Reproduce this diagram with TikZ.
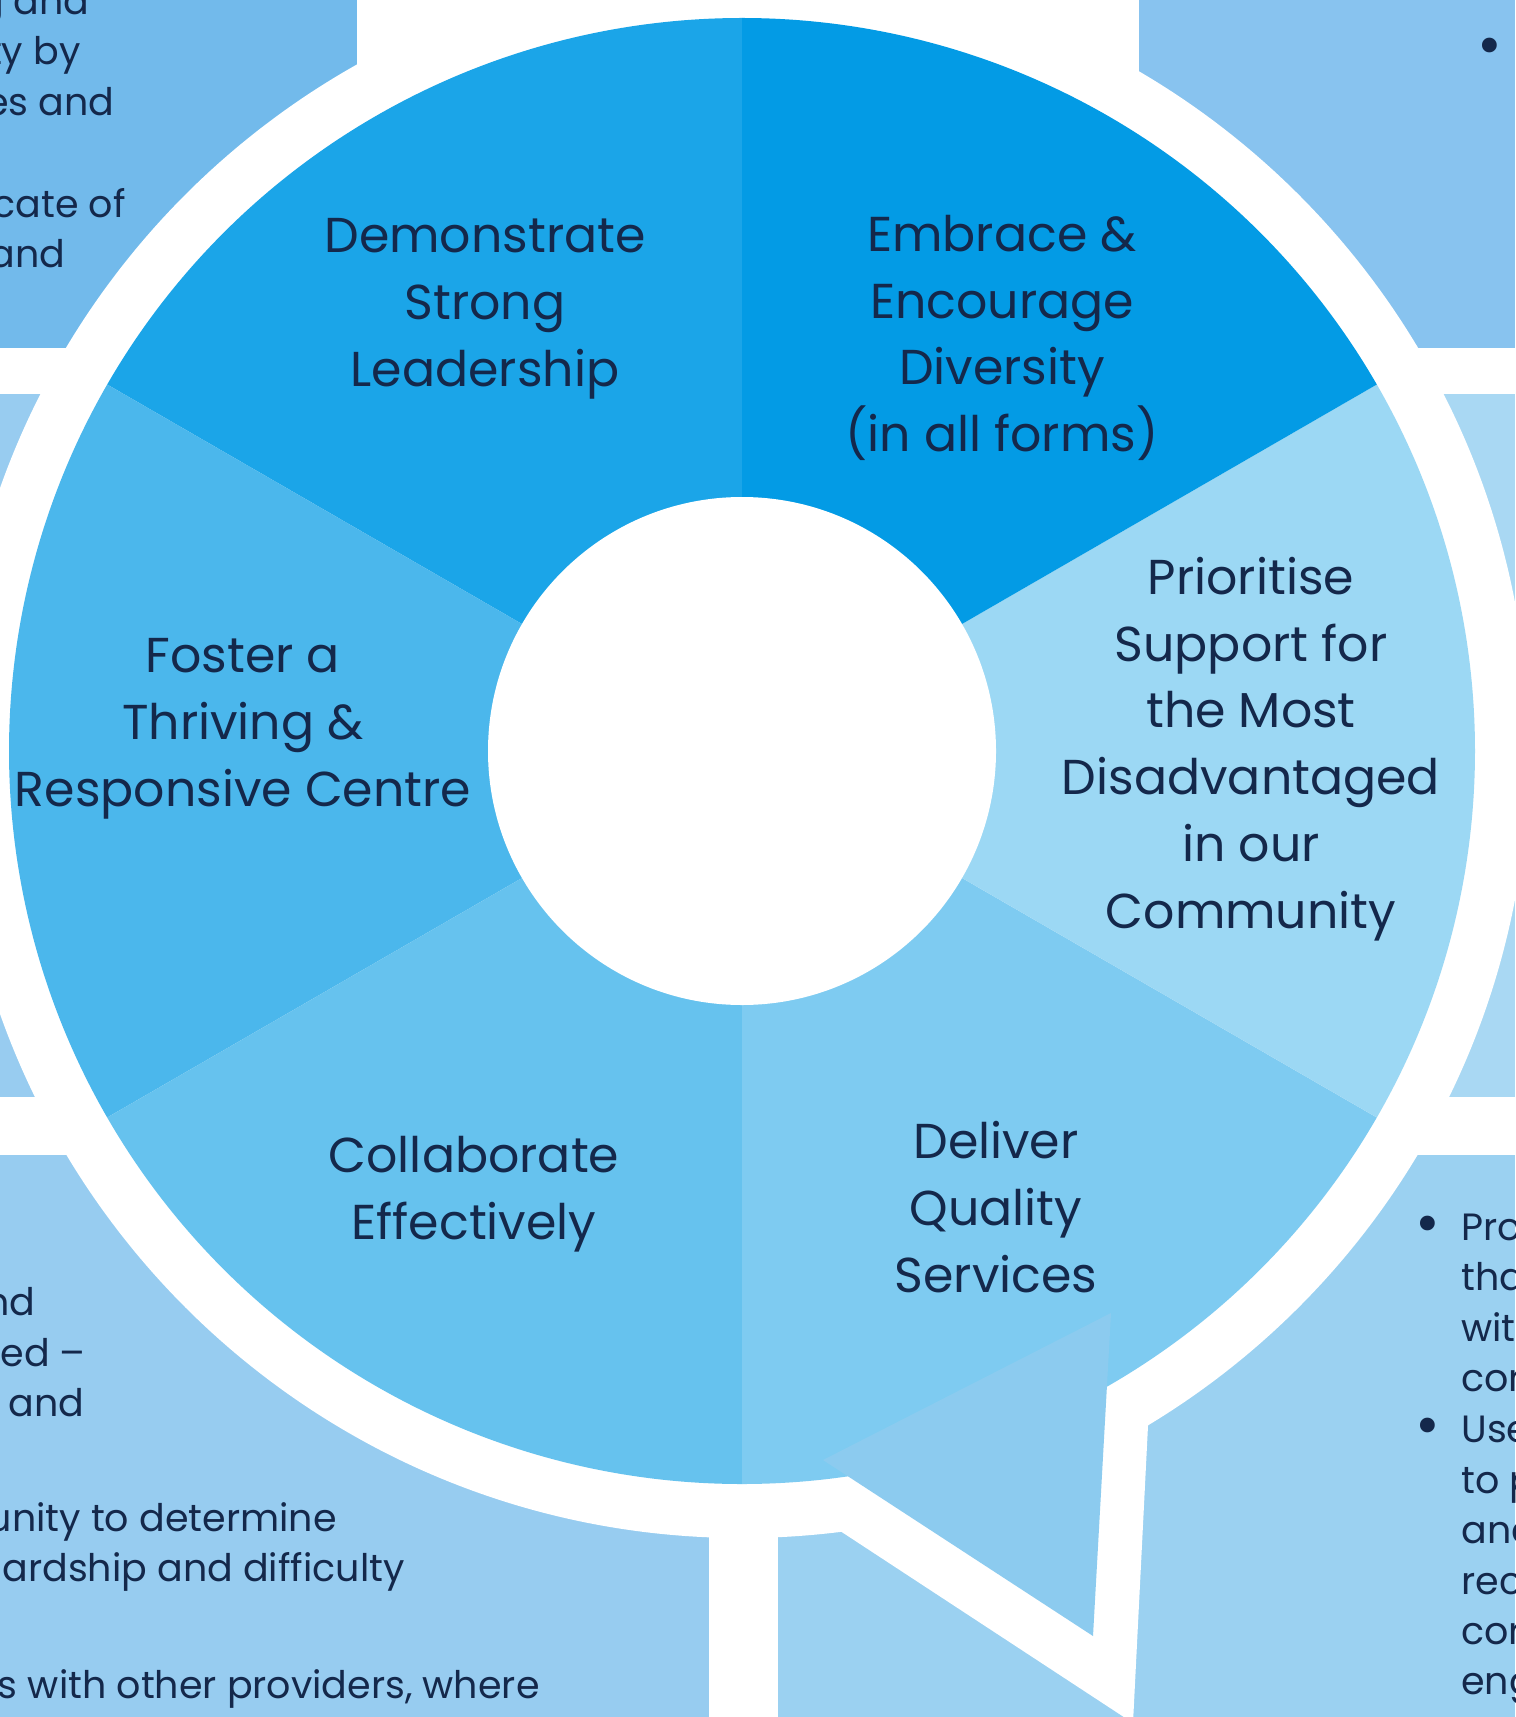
\documentclass[tikz,border=0pt]{standalone}
\usepackage{fontspec}
\setmainfont{Poppins}

\definecolor{navy}{HTML}{14284B}
\definecolor{lead}{HTML}{1BA5E8}
\definecolor{diver}{HTML}{039BE5}
\definecolor{prior}{HTML}{9CD8F4}
\definecolor{deliv}{HTML}{7ECBF1}
\definecolor{collab}{HTML}{66C2EE}
\definecolor{foster}{HTML}{4BB7EC}
\definecolor{tailblue}{HTML}{8CCBEF}
\definecolor{paneltl}{HTML}{72BAEB}
\definecolor{paneltr}{HTML}{88C3EF}
\definecolor{panelml}{HTML}{98CCF0}
\definecolor{panelmr}{HTML}{A9D8F3}
\definecolor{panelbl}{HTML}{97CCF0}
\definecolor{panelbr}{HTML}{9BD1F1}

\begin{document}
\begin{tikzpicture}[x=0.5pt,y=-0.5pt,
  goal/.style={align=center,text=navy,font=\fontsize{24.5}{33.4}\selectfont},
  side/.style={text=navy,font=\fontsize{19}{25}\selectfont,inner sep=0pt},
  dot/.style={text=navy,font=\fontsize{30}{30}\selectfont,inner sep=0pt}]

\useasboundingbox (0,0) rectangle (1515,1717);

\fill[paneltl] (0,0) rectangle (357,348);
\fill[paneltr] (1139,0) rectangle (1515,348);
\fill[panelml] (0,394) rectangle (400,1097);
\fill[panelmr] (1100,394) rectangle (1515,1097);
\fill[panelbl] (0,1155) rectangle (709,1717);
\fill[panelbr] (778,1155) rectangle (1515,1717);

\fill[white] (742,751) circle (787);
\fill[white] (767,1483) -- (1133,1723) -- (1155,1287) -- (742,751) -- cycle;

\begin{scope}[shift={(742,751)},yscale=-1]
\fill[lead] (0,0) -- (90:733) arc[start angle=90,end angle=150,radius=733] -- cycle;
\fill[foster] (0,0) -- (150:733) arc[start angle=150,end angle=210,radius=733] -- cycle;
\fill[collab] (0,0) -- (210:733) arc[start angle=210,end angle=270,radius=733] -- cycle;
\fill[deliv] (0,0) -- (270:733) arc[start angle=270,end angle=330,radius=733] -- cycle;
\fill[prior] (0,0) -- (330:733) arc[start angle=330,end angle=390,radius=733] -- cycle;
\fill[diver] (0,0) -- (30:733) arc[start angle=30,end angle=90,radius=733] -- cycle;
\fill[white] (0,0) circle (254);
\end{scope}

\fill[tailblue] (823,1460) -- (1111,1313) -- (1093,1636) -- cycle;

\node[goal] (leadtxt) at (485,309) {Demonstrate\\Strong\\Leadership};
\node[goal] (divertxt) at (1002,338) {Embrace \&\\Encourage\\Diversity\\(in all forms)};
\node[goal] (priortxt) at (1251,749) {Prioritise\\Support for\\the Most\\Disadvantaged\\in our\\Community};
\node[goal] (delivtxt) at (996,1207) {Deliver\\Quality\\Services};
\node[goal] (collabtxt) at (474,1194) {Collaborate\\Effectively};
\node[goal] (fostertxt) at (243,729) {Foster a\\Thriving \&\\Responsive Centre};

\node[side,anchor=base east] (tl1) at (90,15) {g and};
\node[side,anchor=base east] (tl2) at (81,65) {ty by};
\node[side,anchor=base east] (tl3) at (115,116) {es and};
\node[side,anchor=base east] (tl4) at (126,218) {cate of};
\node[side,anchor=base east] (tl5) at (66,268) {and};

\node[dot,anchor=base] (trdot) at (1490,66) {•};

\node[side,anchor=base east] (bl1) at (36,1315) {nd};
\node[side,anchor=base east] (bl2) at (86,1366) {ued –};
\node[side,anchor=base east] (bl3) at (85,1416) {y and};
\node[side,anchor=base east] (bl4) at (337,1531) {unity to determine};
\node[side,anchor=base east] (bl5) at (405,1581) {ardship and difficulty};
\node[side,anchor=base east] (bl6) at (540,1698) {s with other providers, where};

\node[dot,anchor=base] (brdot1) at (1428,1243) {•};
\node[dot,anchor=base] (brdot2) at (1428,1445) {•};
\node[side,anchor=base west] (br1) at (1461,1240) {Pro};
\node[side,anchor=base west] (br2) at (1461,1290) {tha};
\node[side,anchor=base west] (br3) at (1461,1341) {wit};
\node[side,anchor=base west] (br4) at (1461,1391) {cor};
\node[side,anchor=base west] (br5) at (1461,1442) {Use};
\node[side,anchor=base west] (br6) at (1461,1493) {to p};
\node[side,anchor=base west] (br7) at (1461,1543) {and};
\node[side,anchor=base west] (br8) at (1461,1594) {rec};
\node[side,anchor=base west] (br9) at (1461,1644) {cor};
\node[side,anchor=base west] (br10) at (1461,1694) {eng};
\end{tikzpicture}
\end{document}
